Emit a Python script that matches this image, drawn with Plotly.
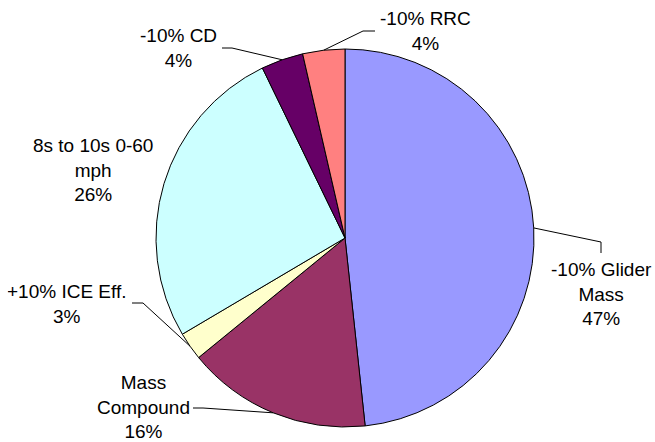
import math
import plotly.graph_objects as go

# ---- data ----
categories = ["-10% Glider Mass", "Mass Compound", "+10% ICE Eff.",
              "8s to 10s 0-60 mph", "-10% CD", "-10% RRC"]
values = [48.3, 15.8, 2.4, 26.3, 3.6, 3.6]
pct_labels = ["47%", "16%", "3%", "26%", "4%", "4%"]
label_text = ["-10% Glider<br>Mass", "Mass<br>Compound", "+10% ICE Eff.",
              "8s to 10s 0-60<br>mph", "-10% CD", "-10% RRC"]
colors = ["#9999FF", "#993366", "#FFFFCC", "#CCFFFF", "#660066", "#FF8080"]

# ---- layout constants (pixels) ----
W, H = 655, 442
CX, CY, R = 345, 238, 189
FONT = dict(family="Liberation Sans, Arial, sans-serif", size=19, color="black")

label_pos = [(601, 294), (143, 407), (67, 304), (93, 170), (178, 48), (425, 31)]
# leader elbows: list of points after the pie-edge point (None = no leader)
leaders = [
    [(601, 242), (601, 253)],
    [(203, 408), (193, 408)],
    [(143, 303), (132, 303)],
    None,
    [(232, 48), (222, 48)],
    [(363, 31), (375, 31)],
]


def px(x):
    return x / W


def py(y):
    return 1 - y / H


fig = go.Figure(go.Pie(
    labels=categories,
    values=values,
    sort=False,
    direction="clockwise",
    rotation=0,
    marker=dict(colors=colors, line=dict(color="black", width=1)),
    textinfo="none",
    hoverinfo="label+value",
    domain=dict(x=[px(CX - R), px(CX + R)], y=[py(CY + R), py(CY - R)]),
    showlegend=False,
))

total = sum(values)
shapes = []
annotations = []
cum = 0.0
for i, v in enumerate(values):
    mid = (cum + v / 2) / total * 2 * math.pi
    cum += v
    ex = CX + R * math.sin(mid)
    ey = CY - R * math.cos(mid)
    if leaders[i]:
        pts = [(ex, ey)] + leaders[i]
        for (x0, y0), (x1, y1) in zip(pts[:-1], pts[1:]):
            shapes.append(dict(type="line", xref="paper", yref="paper",
                               x0=px(x0), y0=py(y0), x1=px(x1), y1=py(y1),
                               line=dict(color="black", width=1)))
    lx, ly = label_pos[i]
    annotations.append(dict(
        x=px(lx), y=py(ly), xref="paper", yref="paper",
        text=f"{label_text[i]}<br>{pct_labels[i]}",
        showarrow=False, xanchor="center", yanchor="middle",
        align="center", font=FONT))

# clip at the left edge, as in the reference
annotations.append(dict(x=0, y=py(304), xref="paper", yref="paper", text=" ",
                        showarrow=False, xanchor="left", yanchor="middle",
                        width=6, height=40, borderpad=0, bgcolor="white",
                        font=FONT))

fig.update_layout(
    width=W, height=H,
    margin=dict(l=0, r=0, t=0, b=0),
    paper_bgcolor="white", plot_bgcolor="white",
    shapes=shapes, annotations=annotations,
)
fig.write_html("out.html")
